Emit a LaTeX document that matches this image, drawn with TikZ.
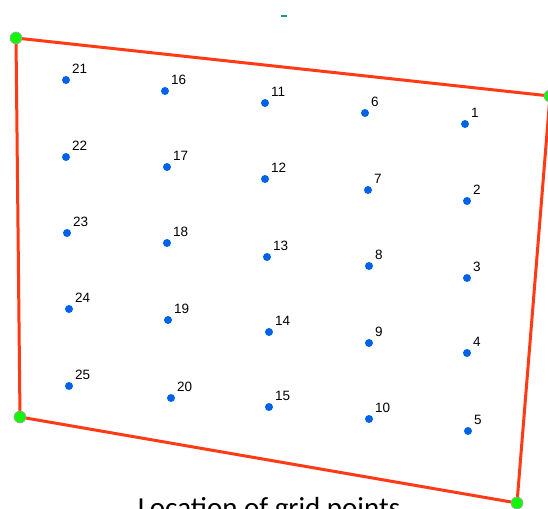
\documentclass[tikz,border=0pt]{standalone}
\usepackage{fontspec}
\setmainfont{Liberation Sans}
\newfontfamily\captionfont{Carlito}
\definecolor{edgered}{RGB}{255,58,20}
\definecolor{ptblue}{RGB}{0,98,230}
\definecolor{cornergreen}{RGB}{20,245,10}
\definecolor{markteal}{RGB}{20,150,150}
\begin{document}
\begin{tikzpicture}[x=1pt,y=-1pt,
  corner/.style={circle,fill=cornergreen,draw=gray!70,line width=0.6pt,minimum size=12pt,inner sep=0pt},
  gridpt/.style={circle,fill=ptblue,minimum size=8pt,inner sep=0pt},
  ptlabel/.style={anchor=south west,inner sep=0pt,font=\fontsize{13.5}{14}\selectfont},
  edge/.style={draw=edgered,line width=3pt}]
\useasboundingbox (0,0) rectangle (548,508);
\clip (0,0) rectangle (548,508);
% small mark at top
\fill[markteal] (281,15) rectangle (287,17.5);
% corners
\coordinate (tl) at (16,38);
\coordinate (tr) at (550,96);
\coordinate (br) at (517,503);
\coordinate (bl) at (20,417);
\draw[edge] (tl) -- (tr) -- (br) -- (bl) -- cycle;
\node[corner] (ctl) at (tl) {};
\node[corner] (ctr) at (tr) {};
\node[corner] (cbr) at (br) {};
\node[corner] (cbl) at (bl) {};
% grid points
\foreach \n/\x/\y in {21/66/80,16/165/91,11/265/103,6/365/113,1/465/124,
  22/66/157,17/167/167,12/265/179,7/368/190,2/467/201,
  23/67/233,18/167/243,13/267/257,8/369/266,3/467/278,
  24/69/309,19/168/320,14/269/332,9/369/343,4/467/353,
  25/69/386,20/171/398,15/269/407,10/369/419,5/468/431}{
  \node[gridpt] (p\n) at (\x,\y) {};
  \node[ptlabel] (l\n) at ([xshift=6pt,yshift=6.5pt]p\n.center) {\n};
}
\node[anchor=base,inner sep=0pt,font=\captionfont\fontsize{29}{30}\selectfont] (cap) at (269,517) {Location of grid points};
\end{tikzpicture}
\end{document}
